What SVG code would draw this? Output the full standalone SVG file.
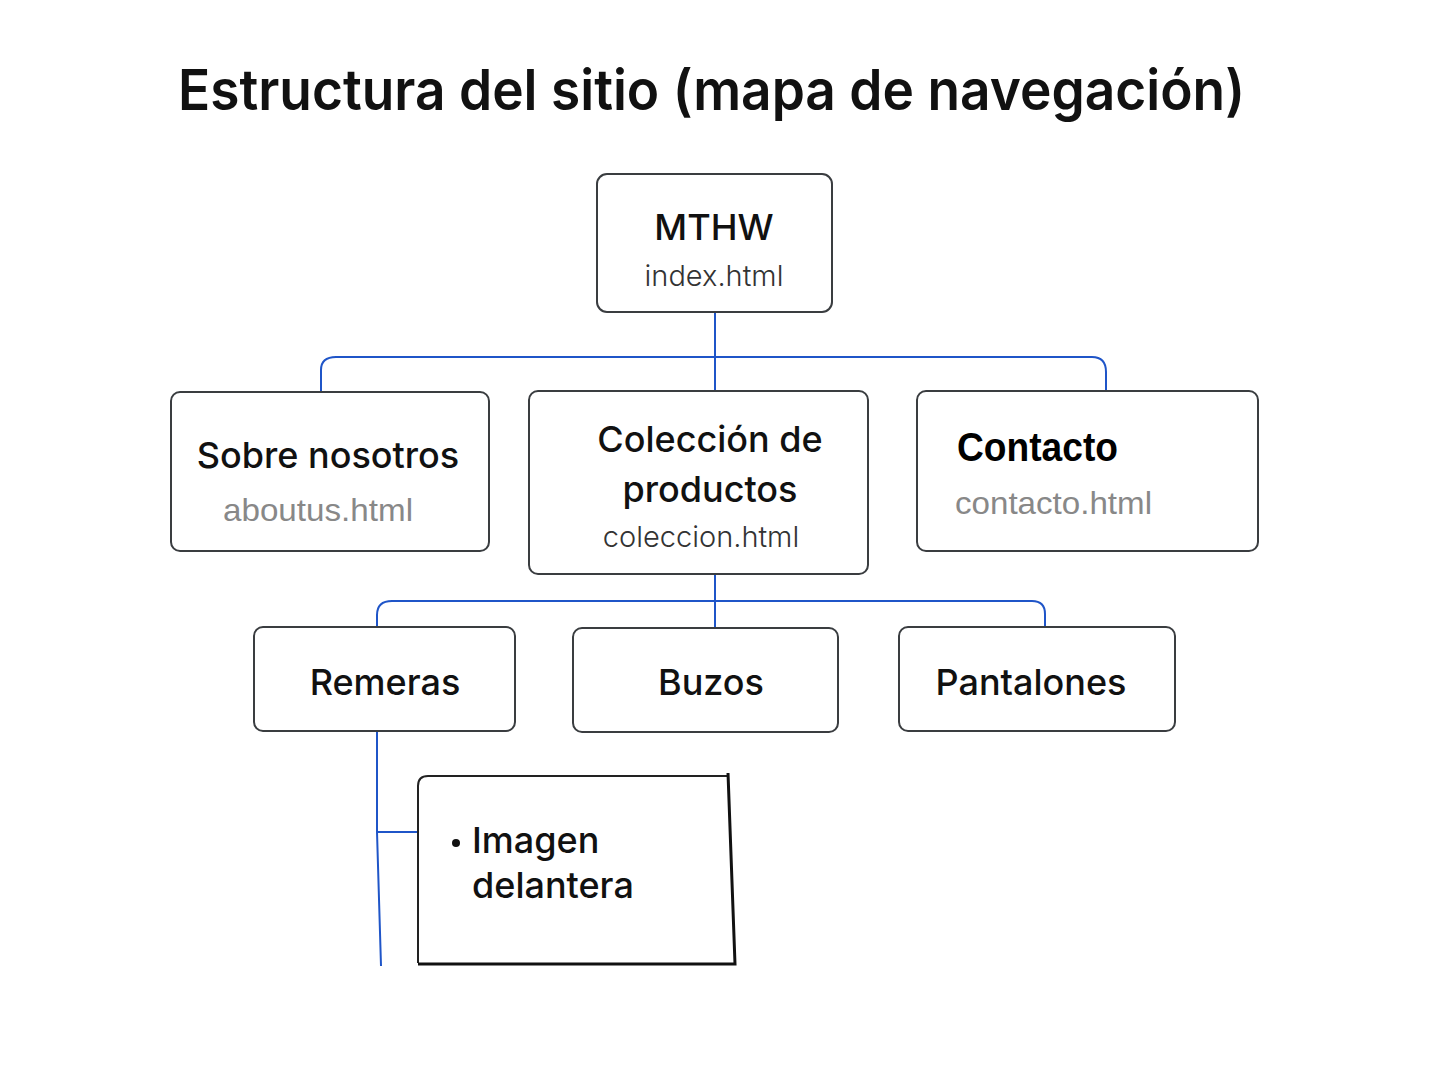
<svg xmlns="http://www.w3.org/2000/svg" width="1439" height="1066" viewBox="0 0 1439 1066">
<style>
.box{fill:#fff;stroke:#3a3d40;stroke-width:2}
.lbl{font-family:Inter,"Noto Sans",sans-serif;font-size:36px;fill:#111;text-anchor:middle;font-weight:500}
.file{font-family:Inter,"Noto Sans",sans-serif;font-size:29px;fill:#333;text-anchor:middle;font-weight:300}
.gray{font-family:"Liberation Sans",Arial,sans-serif;font-size:32px;fill:#888}
.con{fill:none;stroke:#1f55c8;stroke-width:2}
</style>
<rect width="1439" height="1066" fill="#fff"/>
<text x="178" y="110" font-family="Inter,'Noto Sans',sans-serif" font-size="56" font-weight="600" fill="#111" textLength="1067" lengthAdjust="spacingAndGlyphs">Estructura del sitio (mapa de navegación)</text>
<g id="connectors">
<path class="con" d="M715 312 V390"/>
<path class="con" d="M321 392 V370 Q321 357 336 357 H1092 Q1106 357 1106 372 V391"/>
<path class="con" d="M715 574 V627"/>
<path class="con" d="M377 627 V615 Q377 601 392 601 H1032 Q1045 601 1045 614 V627"/>
<path class="con" d="M377 731 V832 L381 966"/>
<path class="con" d="M377 832 H418"/>
</g>
<g id="n-mthw">
<rect class="box" x="597" y="174" width="235" height="138" rx="10"/>
<text class="lbl" x="714" y="240" font-size="40">MTHW</text>
<text class="file" x="714" y="286">index.html</text>
</g>
<g id="n-sobre">
<rect class="box" x="171" y="392" width="318" height="159" rx="9"/>
<text class="lbl" x="328" y="468">Sobre nosotros</text>
<text class="gray" x="223" y="521" textLength="190" lengthAdjust="spacingAndGlyphs">aboutus.html</text>
</g>
<g id="n-coleccion">
<rect class="box" x="529" y="391" width="339" height="183" rx="9"/>
<text class="lbl" x="710" y="452">Colección de</text>
<text class="lbl" x="710" y="502">productos</text>
<text class="file" x="701" y="547">coleccion.html</text>
</g>
<g id="n-contacto">
<rect class="box" x="917" y="391" width="341" height="160" rx="9"/>
<text x="957" y="461" font-family="'Liberation Sans',Arial,sans-serif" font-size="40" font-weight="bold" fill="#000" textLength="161" lengthAdjust="spacingAndGlyphs">Contacto</text>
<text class="gray" x="955" y="514" textLength="197" lengthAdjust="spacingAndGlyphs">contacto.html</text>
</g>
<g id="n-remeras">
<rect class="box" x="254" y="627" width="261" height="104" rx="9"/>
<text class="lbl" x="385" y="695">Remeras</text>
</g>
<g id="n-buzos">
<rect class="box" x="573" y="628" width="265" height="104" rx="9"/>
<text class="lbl" x="711" y="695">Buzos</text>
</g>
<g id="n-pantalones">
<rect class="box" x="899" y="627" width="276" height="104" rx="9"/>
<text class="lbl" x="1031" y="695">Pantalones</text>
</g>
<g id="n-imagen">
<path d="M418 963 V786 Q418 776 428 776 H728" fill="#fff" stroke="#222" stroke-width="2"/>
<path d="M728 773 L735 964 H418" fill="none" stroke="#111" stroke-width="3"/>
<circle cx="456" cy="843" r="4" fill="#111"/>
<text x="472" y="853" font-family="Inter,'Noto Sans',sans-serif" font-size="36" font-weight="500" fill="#111">Imagen</text>
<text x="472" y="898" font-family="Inter,'Noto Sans',sans-serif" font-size="36" font-weight="500" fill="#111">delantera</text>
</g>
</svg>
